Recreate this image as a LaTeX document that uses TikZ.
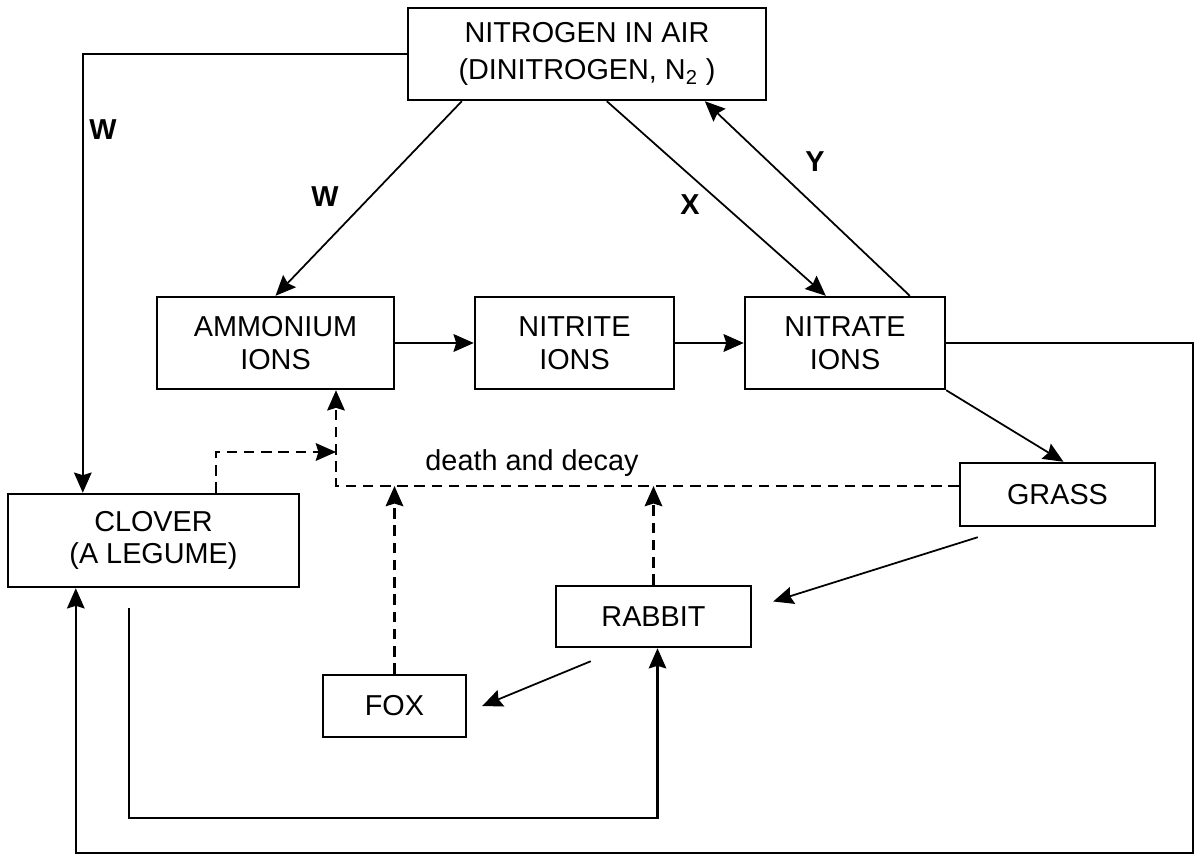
\documentclass[tikz,border=0pt]{standalone}
\usepackage{fontspec}
\setmainfont{Liberation Sans}
\usetikzlibrary{arrows.meta,calc}

\begin{document}
\begin{tikzpicture}[x=0.02cm, y=-0.02cm,
  font=\fontsize{16.4}{18.5}\selectfont,
  stage/.style 2 args={draw, line width=1.4pt, minimum width=#1, minimum height=#2, inner sep=0pt, align=center},
  flow/.style={line width=1.2pt, -{Stealth[length=11.5pt,width=10pt,inset=1.5pt]}},
  thin flow/.style={flow, line width=1pt},
  decay/.style={flow, line width=1.4pt, dash pattern=on 6pt off 3.8pt},
  tag/.style={font=\fontsize{16.4}{18.5}\selectfont\bfseries}]

  \useasboundingbox (0,0) rectangle (1194,855);

  % Boxes (pixel grid, y downwards)
  \node[stage={7.16cm}{1.84cm}, font=\fontsize{16.4}{21}\selectfont] (air) at (587,54) {NITROGEN IN AIR\\(DINITROGEN, N\textsubscript{2} )};
  \node[stage={4.74cm}{1.84cm}] (amm) at (275.5,343) {AMMONIUM\\IONS};
  \node[stage={3.98cm}{1.84cm}] (nitrite) at (574.5,343) {NITRITE\\IONS};
  \node[stage={4.0cm}{1.84cm}] (nitrate) at (845,343) {NITRATE\\IONS};
  \node[stage={5.82cm}{1.86cm}] (clover) at (153.5,540.5) {CLOVER\\(A LEGUME)};
  \node[stage={3.9cm}{1.26cm}] (grass) at (1057.5,494.5) {GRASS};
  \node[stage={3.9cm}{1.22cm}] (rabbit) at (653.5,616.5) {RABBIT};
  \node[stage={2.86cm}{1.24cm}] (fox) at (394.5,706) {FOX};

  % Nitrogen flows
  \draw[flow] (air.west) -| ($(clover.north west)+(76,0)$);
  \draw[thin flow] ($(air.south west)+(55,0)$) -- (amm.north);
  \draw[thin flow] ($(air.south west)+(200,0)$) -- ($(nitrate.north west)+(82,0)$);
  \draw[thin flow] ($(nitrate.north west)+(166,0)$) -- ($(air.south west)+(298,0)$);
  \draw[flow, line width=1.5pt] (amm) -- (nitrite);
  \draw[flow, line width=1.5pt] (nitrite) -- (nitrate);

  \coordinate (corner) at (1193,853);
  \draw[flow] (nitrate.east) -| (corner) -| ($(clover.south west)+(69,0)$);

  % Food chain
  \draw[thin flow] (nitrate.south east) -- ($(grass.north)+(6,0)$);
  \draw[thin flow] ($(grass.south west)+(19,10)$) -- ($(rabbit.east)+(21,-15)$);
  \draw[thin flow] ($(rabbit.south west)+(36,13)$) -- ($(fox.east)+(15,0)$);
  \draw[flow] ($(clover.south west)+(122,20)$) |- ($(rabbit.south)+(4,170)$) -- ($(rabbit.south)+(4,0)$);

  % Death and decay
  \coordinate (rot) at (336,486);
  \draw[decay] (grass.west |- rot) -- (rot) -- (rot |- amm.south);
  \draw[decay] ($(clover.north west)+(209,0)$) |- ($(rot)+(0,-34)$);
  \draw[decay] (fox.north) -- (fox.north |- rot);
  \draw[decay] (rabbit.north) -- (rabbit.north |- rot);
  \node (decaytext) at (532,463) {death and decay};

  % Process labels
  \node[tag] (labW1) at (103,130) {W};
  \node[tag] (labW2) at (325,197) {W};
  \node[tag] (labX) at (690,205) {X};
  \node[tag] (labY) at (815,162) {Y};
\end{tikzpicture}
\end{document}
